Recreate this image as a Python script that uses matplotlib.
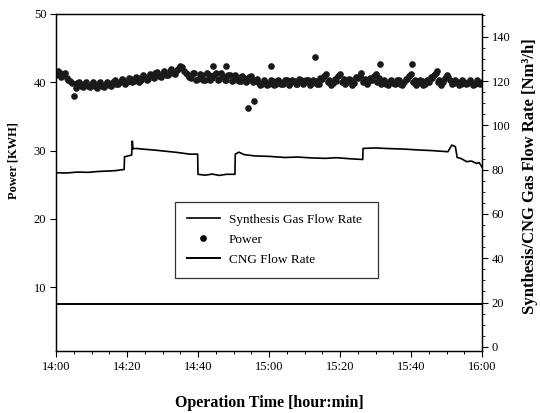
import numpy as np
import matplotlib
matplotlib.use("Agg")
import matplotlib.pyplot as plt
from matplotlib.ticker import MultipleLocator, FixedLocator
from matplotlib.lines import Line2D

plt.rcParams['font.family'] = ['Liberation Serif', 'DejaVu Serif']

# Power [KWH], one reading per minute from 14:00
power_t = list(range(0, 121))
power = [41.0, 41.4, 41.2, 40.7, 40.2, 38.0, 39.9, 39.5, 39.8, 39.4,
         39.7, 39.5, 39.9, 39.5, 39.8, 39.6, 40.0, 39.7, 40.1, 40.4,
         40.0, 40.5, 40.2, 40.6, 40.3, 40.8, 40.5, 41.0, 41.3, 40.9,
         41.4, 41.1, 41.6, 41.3, 41.8, 42.4, 41.7, 41.2, 40.6, 41.3,
         40.5, 41.1, 40.4, 41.0, 40.6, 41.3, 40.5, 40.9, 40.3, 41.0,
         40.4, 40.8, 40.2, 40.7, 40.3, 40.9, 40.4, 40.0, 39.7, 40.1,
         39.8, 40.2, 39.7, 40.0, 39.8, 40.3, 39.9, 40.2, 39.8, 40.4,
         40.0, 40.3, 39.9, 40.2, 39.8, 40.5, 41.2, 40.4, 39.9, 40.2,
         41.2, 40.5, 40.0, 40.3, 39.9, 40.6, 41.3, 40.5, 40.0, 40.4,
         41.2, 40.6, 40.1, 39.8, 40.2, 39.9, 40.3, 39.8, 40.1, 40.5,
         41.2, 40.4, 39.9, 40.2, 39.8, 40.1, 40.6, 41.3, 40.4, 40.0,
         41.1, 40.3, 39.9, 40.1, 39.8, 40.0, 39.9, 40.1, 39.8, 40.0,
         40.1]

# readings taken half a minute later
power_half_t = [m + 0.5 for m in range(0, 120)]
power_half = [41.6, 40.8, 41.4, 40.3, 39.9, 39.2, 40.0, 39.3, 40.1, 39.3,
              40.0, 39.2, 40.1, 39.3, 40.1, 39.4, 40.3, 39.7, 40.5, 39.8,
              40.7, 40.0, 40.8, 40.1, 41.0, 40.3, 41.2, 40.6, 41.5, 40.8,
              41.7, 41.0, 41.9, 41.2, 42.0, 42.2, 41.3, 40.8, 41.4, 40.4,
              41.2, 40.3, 41.3, 40.3, 41.1, 40.4, 41.3, 40.3, 41.1, 40.2,
              41.1, 40.2, 40.9, 40.1, 40.8, 40.0, 40.5, 39.6, 40.3, 39.6,
              40.4, 39.6, 40.3, 39.7, 40.4, 39.6, 40.4, 39.7, 40.5, 39.7,
              40.4, 39.6, 40.4, 39.7, 40.6, 40.9, 40.0, 39.6, 40.5, 40.9,
              40.0, 39.7, 40.5, 39.6, 40.8, 40.9, 40.0, 39.7, 40.6, 40.9,
              40.1, 39.7, 40.4, 39.6, 40.4, 39.7, 40.3, 39.6, 40.5, 40.9,
              40.0, 39.6, 40.4, 39.6, 40.4, 40.8, 41.0, 40.0, 39.6, 40.6,
              40.8, 39.7, 40.3, 39.6, 40.3, 39.7, 40.3, 39.6, 40.3, 39.7]

# stray power readings away from the band
outlier_t = [44.2, 47.8, 54.2, 55.9, 60.6, 73.0, 91.3, 100.2, 107.2]
outlier_power = [42.4, 42.4, 36.2, 37.3, 42.4, 43.7, 42.7, 42.7, 41.7]

# synthesis gas flow rate [Nm3/h]
syn_t = [0, 3, 6, 9, 12, 15, 17, 19.2, 19.3, 21.3, 21.5, 21.7, 22.5, 25, 28,
         31, 34, 37.7, 39.9, 40.0, 42, 44, 46, 48, 50.4, 50.5, 51.5, 53, 56,
         60, 64.5, 68, 72, 75.8, 79, 83, 86.4, 86.5, 90, 94, 98, 102, 106,
         110.4, 111.5, 112.5, 113.0, 114, 115.7, 117, 118.5, 119.2, 120]
syn_flow = [78.6, 78.5, 78.9, 78.8, 79.2, 79.4, 79.6, 80.1, 85.8, 86.6, 92.9,
            89.4, 89.6, 89.2, 88.8, 88.3, 87.8, 87.0, 87.0, 77.9, 77.5, 78.0,
            77.4, 77.9, 77.9, 87.0, 87.9, 86.8, 86.2, 86.0, 85.5, 85.7, 85.3,
            85.1, 85.4, 84.9, 84.6, 89.6, 89.8, 89.5, 89.3, 88.9, 88.6, 88.1,
            91.1, 90.4, 85.5, 85.1, 83.6, 83.9, 82.8, 83.2, 81.2]

# CNG flow rate [Nm3/h]
cng_t = [0, 120]
cng_flow = [19.3, 19.3]

time_ticks = [0, 20, 40, 60, 80, 100, 120]
time_labels = ["14:00", "14:20", "14:40", "15:00", "15:20", "15:40", "16:00"]

fig = plt.figure(figsize=(5.4, 4.13), dpi=100)
ax = fig.add_axes([56 / 540, 1 - 351 / 413, 426 / 540, 337 / 413])
ax2 = ax.twinx()

dot = dict(color="#1a1a1a", markersize=4.8, markeredgewidth=0, linestyle="none")
ax.plot(power_t, power, "o", **dot)
ax.plot(power_half_t, power_half, "o", **dot)
ax.plot(outlier_t, outlier_power, "o", **dot)
ax2.plot(syn_t, syn_flow, color="black", linewidth=1.2)
ax2.plot(cng_t, cng_flow, color="black", linewidth=1.4)

ax.set_xlim(0, 120)
ax.set_ylim(0.66, 50)
ax2.set_ylim(-1.9, 150.3)

ax.xaxis.set_major_locator(FixedLocator(time_ticks))
ax.set_xticklabels(time_labels)
ax.xaxis.set_minor_locator(MultipleLocator(5))
ax.set_yticks([10, 20, 30, 40, 50])
ax2.set_yticks([0, 20, 40, 60, 80, 100, 120, 140])
ax2.yaxis.set_minor_locator(MultipleLocator(5))

ax.tick_params(axis="both", which="major", direction="out", length=4,
               width=0.8, labelsize=9, pad=3)
ax.tick_params(axis="x", which="minor", direction="out", length=2.5, width=0.7)
ax2.tick_params(axis="y", which="major", direction="out", length=4,
                width=0.8, labelsize=9, pad=3)
ax2.tick_params(axis="y", which="minor", direction="out", length=2, width=0.6)

for a in (ax, ax2):
    for s in a.spines.values():
        s.set_linewidth(0.9)

ax.set_xlabel("Operation Time [hour:min]", fontsize=11.5, fontweight="bold")
ax.xaxis.set_label_coords(0.5, -0.13)
ax.set_ylabel("Power [KWH]", fontsize=9, fontweight="bold")
ax.yaxis.set_label_coords(-0.085, 0.565)
ax2.set_ylabel("Synthesis/CNG Gas Flow Rate [Nm³/h]", fontsize=12,
               fontweight="bold")
ax2.yaxis.set_label_coords(1.094, 0.52)

handles = [Line2D([], [], color="black", linewidth=1.2),
           Line2D([], [], color="black", marker="o", linestyle="none",
                  markersize=4.8, markeredgewidth=0),
           Line2D([], [], color="black", linewidth=1.4)]
labels = ["Synthesis Gas Flow Rate", "Power", "CNG Flow Rate"]
leg = ax2.legend(handles, labels, loc="upper left",
                 bbox_to_anchor=(119 / 426, 1 - 191 / 337, 203 / 426, 0.01),
                 mode="expand", fontsize=9.5, frameon=True, fancybox=False,
                 borderpad=0.9, labelspacing=0.6, handlelength=2.5,
                 handletextpad=0.7, borderaxespad=0)
leg.get_frame().set_edgecolor("black")
leg.get_frame().set_linewidth(0.9)

fig.savefig("out.png", dpi=100)
